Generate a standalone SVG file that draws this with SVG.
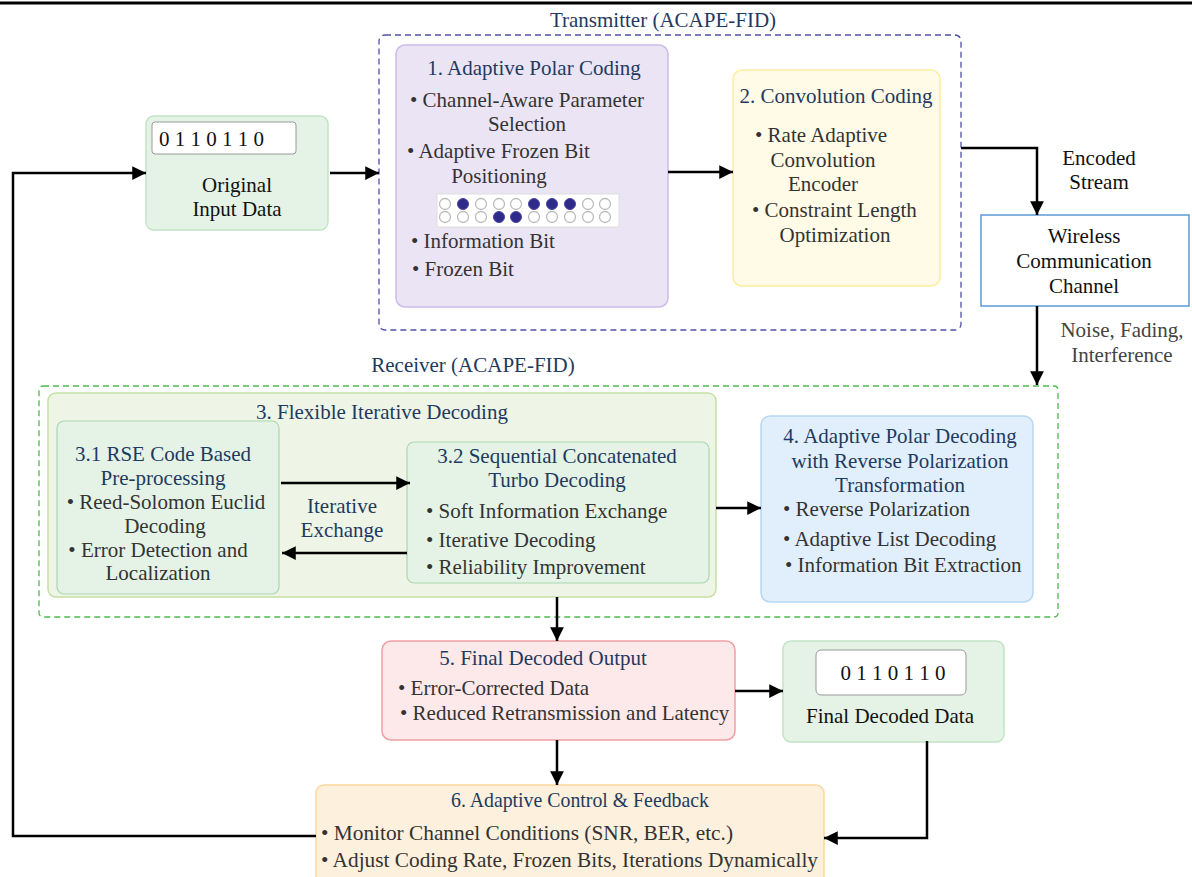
<svg xmlns="http://www.w3.org/2000/svg" width="1192" height="877" viewBox="0 0 1192 877">
<defs>
<marker id="ah" viewBox="0 0 10 10" refX="10" refY="5" markerWidth="5.5" markerHeight="5.5" orient="auto" markerUnits="strokeWidth">
<path d="M0,0 L10,5 L0,10 z" fill="#000"/>
</marker>
<style>
text{font-family:"Liberation Serif","Times New Roman",serif;font-size:21px;fill:#333}
.t{fill:#1f3a5f}
.k{fill:#111}
.g{fill:#444}
.c{text-anchor:middle}
.conn{fill:none;stroke:#000;stroke-width:2.5;marker-end:url(#ah)}
.e{fill:#fff;stroke:#bbb;stroke-width:1.3}
.f{fill:#2e2a8a;stroke:#4a46a0;stroke-width:1}
</style>
</defs>
<rect width="1192" height="877" fill="#fff"/>
<line x1="0" y1="3" x2="1192" y2="3" stroke="#000" stroke-width="3"/>

<g id="transmitter">
<rect x="379" y="35" width="582" height="295" rx="6" fill="none" stroke="#5050a8" stroke-width="1.3" stroke-dasharray="6,4"/>
<text x="663" y="27" class="t c">Transmitter (ACAPE-FID)</text>
</g>

<g id="receiver">
<rect x="39" y="386" width="1019" height="231" rx="4" fill="none" stroke="#4cbb4c" stroke-width="1.3" stroke-dasharray="6,4"/>
<text x="473" y="372" class="t c">Receiver (ACAPE-FID)</text>
</g>

<g id="input">
<rect x="146" y="116" width="182" height="114" rx="8" fill="#e4f3e6" stroke="#c2e4c6" stroke-width="1.5"/>
<rect x="152" y="122" width="144" height="32" rx="3" fill="#fff" stroke="#999" stroke-width="1"/>
<text x="159" y="146" class="k">0 1 1 0 1 1 0</text>
<text x="237" y="192" class="k c">Original</text>
<text x="237" y="216" class="k c">Input Data</text>
</g>

<g id="box1">
<rect x="396" y="45" width="272" height="262" rx="9" fill="#ebe4f5" stroke="#cbbbe8" stroke-width="1.5"/>
<text x="534" y="75" class="t c">1. Adaptive Polar Coding</text>
<text x="527" y="107" class="c">• Channel-Aware Parameter</text>
<text x="527" y="131" class="c">Selection</text>
<text x="407" y="158">• Adaptive Frozen Bit</text>
<text x="499" y="183" class="c">Positioning</text>
<rect x="437" y="194" width="182" height="33" fill="#fff" stroke="#ddd" stroke-width="1"/>
<g>
<circle cx="445" cy="204" r="5.5" class="e"/><circle cx="463" cy="204" r="5.5" class="f"/><circle cx="481" cy="204" r="5.5" class="e"/><circle cx="499" cy="204" r="5.5" class="e"/><circle cx="516" cy="204" r="5.5" class="e"/><circle cx="534" cy="204" r="5.5" class="f"/><circle cx="552" cy="204" r="5.5" class="f"/><circle cx="570" cy="204" r="5.5" class="f"/><circle cx="588" cy="204" r="5.5" class="e"/><circle cx="605" cy="204" r="5.5" class="e"/>
<circle cx="445" cy="217" r="5.5" class="e"/><circle cx="463" cy="217" r="5.5" class="e"/><circle cx="481" cy="217" r="5.5" class="e"/><circle cx="499" cy="217" r="5.5" class="f"/><circle cx="516" cy="217" r="5.5" class="f"/><circle cx="534" cy="217" r="5.5" class="e"/><circle cx="552" cy="217" r="5.5" class="e"/><circle cx="570" cy="217" r="5.5" class="e"/><circle cx="588" cy="217" r="5.5" class="e"/><circle cx="605" cy="217" r="5.5" class="e"/>
</g>
<text x="411" y="248">• Information Bit</text>
<text x="412" y="276">• Frozen Bit</text>
</g>

<g id="box2">
<rect x="733" y="70" width="207" height="216" rx="9" fill="#fffbe6" stroke="#fbeea0" stroke-width="1.5"/>
<text x="836" y="103" class="t c">2. Convolution Coding</text>
<text x="755" y="142">• Rate Adaptive</text>
<text x="823" y="167" class="c">Convolution</text>
<text x="823" y="191" class="c">Encoder</text>
<text x="752" y="217">• Constraint Length</text>
<text x="835" y="242" class="c">Optimization</text>
</g>

<g id="channel">
<rect x="981" y="215" width="208" height="91" fill="#fff" stroke="#5b9bd5" stroke-width="1.5"/>
<text x="1084" y="243" class="k c">Wireless</text>
<text x="1084" y="268" class="k c">Communication</text>
<text x="1084" y="293" class="k c">Channel</text>
</g>

<g id="box3">
<rect x="48" y="393" width="668" height="204" rx="8" fill="#eef5e6" stroke="#c5e0a5" stroke-width="1.5"/>
<text x="382" y="419" class="t c">3. Flexible Iterative Decoding</text>
</g>

<g id="box31">
<rect x="57" y="421" width="222" height="173" rx="7" fill="#e4f3e6" stroke="#a8d8ae" stroke-width="1.2"/>
<text x="163" y="461" class="t c">3.1 RSE Code Based</text>
<text x="163" y="485" class="t c">Pre-processing</text>
<text x="166" y="509" class="c">• Reed-Solomon Euclid</text>
<text x="165" y="533" class="c">Decoding</text>
<text x="158" y="557" class="c">• Error Detection and</text>
<text x="158" y="580" class="c">Localization</text>
</g>

<g id="box32">
<rect x="407" y="442" width="302" height="141" rx="7" fill="#e4f3e6" stroke="#a8d8ae" stroke-width="1.2"/>
<text x="557" y="463" class="t c">3.2 Sequential Concatenated</text>
<text x="557" y="487" class="t c">Turbo Decoding</text>
<text x="426" y="518">• Soft Information Exchange</text>
<text x="426" y="547">• Iterative Decoding</text>
<text x="426" y="574">• Reliability Improvement</text>
</g>

<g id="box4">
<rect x="761" y="416" width="272" height="186" rx="9" fill="#e1effc" stroke="#b7d7f2" stroke-width="1.5"/>
<text x="900" y="443" class="t c">4. Adaptive Polar Decoding</text>
<text x="900" y="468" class="t c">with Reverse Polarization</text>
<text x="900" y="492" class="t c">Transformation</text>
<text x="783" y="516">• Reverse Polarization</text>
<text x="783" y="546">• Adaptive List Decoding</text>
<text x="785" y="572">• Information Bit Extraction</text>
</g>

<g id="box5">
<rect x="382" y="641" width="353" height="99" rx="9" fill="#fde8ea" stroke="#f0a0a5" stroke-width="1.5"/>
<text x="543" y="665" class="t c">5. Final Decoded Output</text>
<text x="398" y="695">• Error-Corrected Data</text>
<text x="400" y="720">• Reduced Retransmission and Latency</text>
</g>

<g id="output">
<rect x="783" y="641" width="221" height="101" rx="8" fill="#e4f3e6" stroke="#c2e4c6" stroke-width="1.5"/>
<rect x="816" y="650" width="150" height="45" rx="5" fill="#fff" stroke="#999" stroke-width="1"/>
<text x="893" y="680" class="k c">0 1 1 0 1 1 0</text>
<text x="890" y="723" class="k c">Final Decoded Data</text>
</g>

<g id="box6">
<rect x="316" y="785" width="508" height="100" rx="8" fill="#fdf0dc" stroke="#fbd8a0" stroke-width="1.5"/>
<text x="580" y="807" class="t c" textLength="258" lengthAdjust="spacingAndGlyphs">6. Adaptive Control &amp; Feedback</text>
<text x="321" y="840" textLength="412" lengthAdjust="spacingAndGlyphs">• Monitor Channel Conditions (SNR, BER, etc.)</text>
<text x="321" y="867" textLength="497" lengthAdjust="spacingAndGlyphs">• Adjust Coding Rate, Frozen Bits, Iterations Dynamically</text>
</g>

<g id="connectors">
<path class="conn" d="M330,173 L379,173"/>
<path class="conn" d="M668,172 L733,172"/>
<path class="conn" d="M961,148 L1037,148 L1037,215"/>
<path class="conn" d="M1037,306 L1037,385"/>
<path class="conn" d="M281,483 L410,483"/>
<path class="conn" d="M407,553 L282,553"/>
<path class="conn" d="M716,508 L761,508"/>
<path class="conn" d="M557,597 L557,641"/>
<path class="conn" d="M735,691 L783,691"/>
<path class="conn" d="M557,740 L557,785"/>
<path class="conn" d="M927,741 L927,838 L824,838"/>
<path class="conn" d="M316,836 L13,836 L13,173 L146,173"/>
<text x="1099" y="165" class="k c">Encoded</text>
<text x="1099" y="189" class="k c">Stream</text>
<text x="1122" y="337" class="g c">Noise, Fading,</text>
<text x="1122" y="362" class="g c">Interference</text>
<text x="342" y="513" class="t c">Iterative</text>
<text x="342" y="537" class="t c">Exchange</text>
</g>
</svg>
